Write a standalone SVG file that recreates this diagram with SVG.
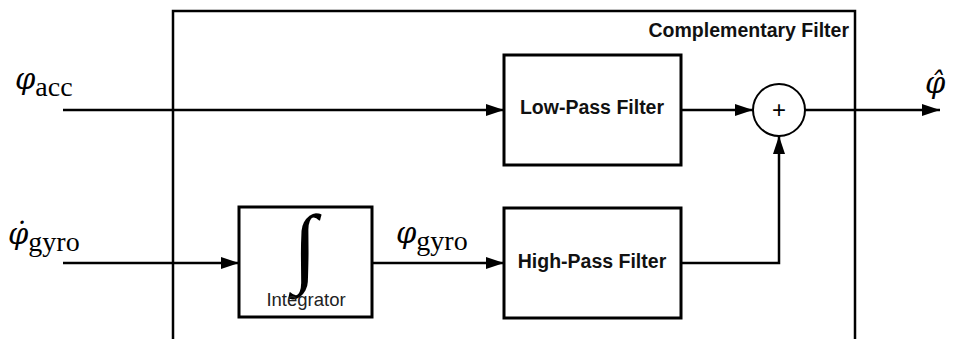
<svg xmlns="http://www.w3.org/2000/svg" width="960" height="339" viewBox="0 0 960 339">
<style>
.box{fill:#fff;stroke:#000;stroke-width:3}
.wire{fill:none;stroke:#000;stroke-width:2.5}
.lbl{font-family:"Liberation Sans",Arial,sans-serif;font-weight:bold;font-size:19.5px;text-anchor:middle;fill:#111}
.math{font-family:"Liberation Serif","Times New Roman",serif;fill:#000}
.phi{font-family:"DejaVu Serif",serif;font-style:italic;font-size:29px}
</style>
<defs>
<marker id="arr" markerUnits="userSpaceOnUse" markerWidth="18" markerHeight="12" refX="18" refY="6" orient="auto">
<path d="M0,0 L18,6 L0,12 z" fill="#000"/>
</marker>
</defs>
<rect width="960" height="339" fill="#fff"/>
<g id="complementary-filter">
<rect x="173" y="11" width="682" height="340" fill="none" stroke="#000" stroke-width="2.5"/>
<text x="849" y="37" class="lbl" style="text-anchor:end">Complementary Filter</text>
</g>
<g id="connectors">
<line class="wire" x1="63" y1="110" x2="504" y2="110" marker-end="url(#arr)"/>
<line class="wire" x1="681" y1="110" x2="753" y2="110" marker-end="url(#arr)"/>
<line class="wire" x1="805" y1="110" x2="940" y2="110" marker-end="url(#arr)"/>
<line class="wire" x1="63" y1="263" x2="239" y2="263" marker-end="url(#arr)"/>
<line class="wire" x1="372" y1="263" x2="504" y2="263" marker-end="url(#arr)"/>
<polyline class="wire" points="681,263 779,263 779,136" marker-end="url(#arr)"/>
</g>
<g id="lpf">
<rect class="box" x="504" y="55" width="177" height="110"/>
<text x="592" y="114" class="lbl">Low-Pass Filter</text>
</g>
<g id="hpf">
<rect class="box" x="504" y="208" width="177" height="110"/>
<text x="592" y="268" class="lbl">High-Pass Filter</text>
</g>
<g id="integrator">
<rect class="box" x="239" y="207" width="133" height="110"/>
<text x="305" y="276" class="math" font-size="88" text-anchor="middle">∫</text>
<text x="306" y="306" font-family="Liberation Sans,Arial,sans-serif" font-size="18.5" text-anchor="middle" fill="#222">Integrator</text>
</g>
<g id="sum">
<circle cx="779" cy="110" r="26" fill="#fff" stroke="#000" stroke-width="2"/>
<text x="779" y="118" font-family="Liberation Sans,Arial,sans-serif" font-size="24" text-anchor="middle" fill="#000">+</text>
</g>
<g id="phi-acc">
<text x="15" y="89" class="math"><tspan class="phi">φ</tspan><tspan font-size="28" dy="7">acc</tspan></text>
</g>
<g id="phi-dot-gyro">
<text x="8" y="244" class="math"><tspan class="phi">φ̇</tspan><tspan font-size="28" dy="7">gyro</tspan></text>
</g>
<g id="phi-gyro">
<text x="396" y="243" class="math"><tspan class="phi">φ</tspan><tspan font-size="28" dy="7">gyro</tspan></text>
</g>
<g id="phi-hat">
<text x="925" y="93" class="phi">φ̂</text>
</g>
</svg>
